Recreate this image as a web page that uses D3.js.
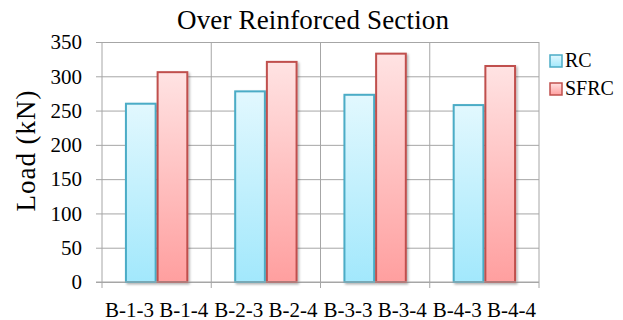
<!DOCTYPE html>
<html>
<head>
<meta charset="utf-8">
<script src="https://cdn.jsdelivr.net/npm/d3@7/dist/d3.min.js"></script>
<style>
  html, body { margin: 0; padding: 0; background: #fff; }
  svg { display: block; }
  svg text { font-family: "Liberation Serif", "DejaVu Serif", serif; fill: #000; }
</style>
</head>
<body>
<svg id="chart" width="623" height="320"></svg>
<script>
// Beam groups, each holding an RC and an SFRC specimen
const groups = ["B-1-3 B-1-4", "B-2-3 B-2-4", "B-3-3 B-3-4", "B-4-3 B-4-4"];
const seriesNames = ["RC", "SFRC"];
const rcLoads = [260, 278, 273, 258];
const sfrcLoads = [306, 321, 333, 315];
const yTicks = [0, 50, 100, 150, 200, 250, 300, 350];

const colors = {
  RC: { stroke: "#4bacc6", top: "#e2f8fe", bottom: "#a2e8fc" },
  SFRC: { stroke: "#c0504d", top: "#ffe3e3", bottom: "#ff9f9f" }
};

const svg = d3.select("#chart");
const margin = { left: 102, right: 84, top: 42, bottom: 38 };
const W = 623, H = 320;
const x0 = margin.left, x1 = W - margin.right;
const y0 = H - margin.bottom, y1 = margin.top;

const x = d3.scaleBand().domain(groups).range([x0, x1])
  .paddingInner(0.42).paddingOuter(0.21);
const xs = d3.scaleBand().domain(seriesNames).range([0, x.bandwidth()]);
const y = d3.scaleLinear().domain([0, 350]).range([y0, y1]);

const defs = svg.append("defs");
seriesNames.forEach(s => {
  const g = defs.append("linearGradient").attr("id", "grad-" + s)
    .attr("x1", 0).attr("y1", 0).attr("x2", 0).attr("y2", 1);
  g.append("stop").attr("offset", "0%").attr("stop-color", colors[s].top);
  g.append("stop").attr("offset", "100%").attr("stop-color", colors[s].bottom);
});
const shadow = defs.append("filter").attr("id", "shadow")
  .attr("x", "-20%").attr("y", "-20%").attr("width", "150%").attr("height", "150%");
shadow.append("feDropShadow").attr("dx", 1.5).attr("dy", 1.5)
  .attr("stdDeviation", 1).attr("flood-color", "#000").attr("flood-opacity", 0.3);

// Horizontal gridlines with outside ticks
const yAxis = d3.axisLeft(y).tickValues(yTicks).tickSize(-(x1 - x0)).tickPadding(20);
const gy = svg.append("g").attr("transform", `translate(${x0},0)`).call(yAxis)
  .attr("font-family", null);
gy.select(".domain").remove();
gy.selectAll(".tick line").attr("stroke", "#a6a6a6").attr("x1", -6);
gy.selectAll(".tick text").style("font-size", "21px");

// Vertical gridlines at group boundaries
const step = x.step();
const bounds = d3.range(groups.length + 1).map(i => x0 + i * step);
svg.append("g").selectAll("line").data(bounds).join("line")
  .attr("x1", d => d).attr("x2", d => d)
  .attr("y1", y1).attr("y2", y0 + 6)
  .attr("stroke", "#a6a6a6");

// Bars
const rows = groups.map((g, i) => ({ group: g, values: [
  { key: "RC", value: rcLoads[i] }, { key: "SFRC", value: sfrcLoads[i] }] }));
svg.append("g").selectAll("g").data(rows).join("g")
  .attr("transform", d => `translate(${x(d.group)},0)`)
  .selectAll("rect").data(d => d.values).join("rect")
  .attr("x", d => xs(d.key) + 1)
  .attr("width", xs.bandwidth() - 2)
  .attr("y", d => y(d.value))
  .attr("height", d => y0 - y(d.value))
  .attr("fill", d => `url(#grad-${d.key})`)
  .attr("stroke", d => colors[d.key].stroke)
  .attr("stroke-width", 2)
  .attr("filter", "url(#shadow)");

// Category axis line and labels
svg.append("line").attr("x1", x0 - 6).attr("x2", x1).attr("y1", y0).attr("y2", y0)
  .attr("stroke", "#a6a6a6");
const xAxis = d3.axisBottom(x).tickSize(0).tickPadding(20);
const gx = svg.append("g").attr("transform", `translate(0,${y0})`).call(xAxis)
  .attr("font-family", null);
gx.select(".domain").remove();
gx.selectAll(".tick text").style("font-size", "21px");

// Title
svg.append("text").attr("x", 313).attr("y", 29).attr("text-anchor", "middle")
  .style("font-size", "27px").attr("textLength", 272).attr("lengthAdjust", "spacing")
  .text("Over Reinforced Section");

// Y axis title
svg.append("text").attr("transform", "translate(35,151) rotate(-90)")
  .attr("text-anchor", "middle").style("font-size", "27px")
  .attr("textLength", 121).attr("lengthAdjust", "spacing")
  .text("Load (kN)");

// Legend
const legend = svg.append("g").selectAll("g").data(seriesNames).join("g")
  .attr("transform", (d, i) => `translate(550,${55 + i * 28})`);
legend.append("rect").attr("width", 12).attr("height", 12)
  .attr("fill", d => `url(#grad-${d})`).attr("stroke", d => colors[d].stroke)
  .attr("stroke-width", 1.5);
legend.append("text").attr("x", 15).attr("y", 12).style("font-size", "20px")
  .text(d => d);
</script>
</body>
</html>
